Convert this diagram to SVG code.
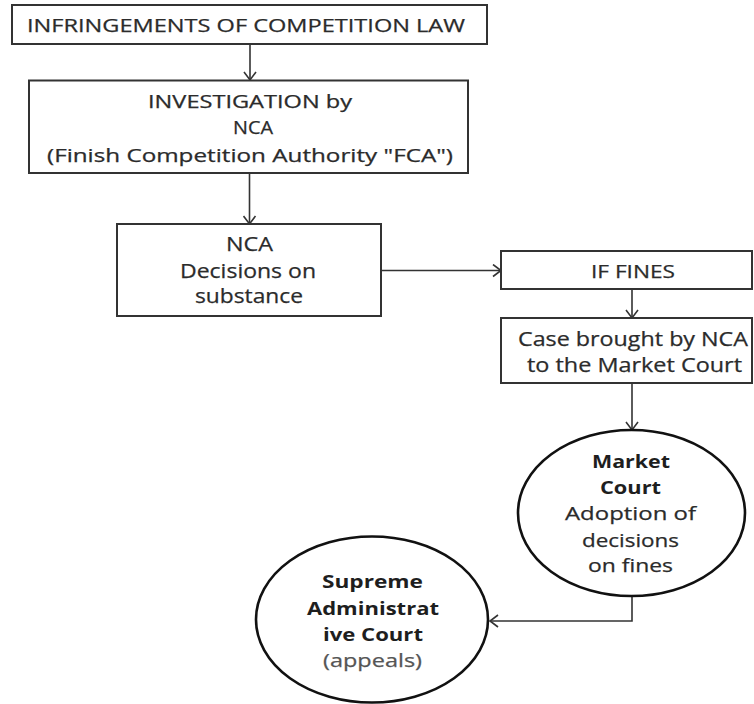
<svg xmlns="http://www.w3.org/2000/svg" width="754" height="704" viewBox="0 0 754 704">
<defs>
<marker id="arr" markerUnits="userSpaceOnUse" markerWidth="12" markerHeight="14" refX="9" refY="7" orient="auto">
<path d="M1,1 L9,7 L1,13" fill="none" stroke="#333" stroke-width="1.6"/>
</marker>
<style>
.box{fill:#fff;stroke:#333;stroke-width:2}
.ell{fill:#fff;stroke:#111;stroke-width:2.6}
.t{font-family:"Open Sans","Liberation Sans",sans-serif;fill:#2b2b2b;stroke:#2b2b2b;stroke-width:0.25;text-anchor:middle}
.b{font-weight:bold;fill:#1e1e1e;stroke:none}
.g{fill:#555;stroke:#555}
.c{fill:none;stroke:#333;stroke-width:1.6}
</style>
</defs>
<rect width="754" height="704" fill="#fff"/>
<g id="connectors">
<line class="c" x1="250" y1="45" x2="250" y2="80" marker-end="url(#arr)"/>
<line class="c" x1="249.5" y1="173" x2="249.5" y2="224" marker-end="url(#arr)"/>
<line class="c" x1="381" y1="270.5" x2="501" y2="270.5" marker-end="url(#arr)"/>
<line class="c" x1="632" y1="289" x2="632" y2="318" marker-end="url(#arr)"/>
<line class="c" x1="632" y1="383" x2="632" y2="430" marker-end="url(#arr)"/>
<path class="c" d="M632,596 V621 H490" marker-end="url(#arr)"/>
</g>
<g id="infringements">
<rect class="box" x="12" y="5" width="475" height="39"/>
<text class="t" x="246" y="32" font-size="18.5" textLength="438" lengthAdjust="spacingAndGlyphs">INFRINGEMENTS OF COMPETITION LAW</text>
</g>
<g id="investigation">
<rect class="box" x="29" y="80.5" width="439" height="92.5"/>
<text class="t" x="250" y="108" font-size="17.5" textLength="204" lengthAdjust="spacingAndGlyphs">INVESTIGATION by</text>
<text class="t" x="253" y="134" font-size="17.5" textLength="40" lengthAdjust="spacingAndGlyphs">NCA</text>
<text class="t" x="250" y="162" font-size="17.5" textLength="406" lengthAdjust="spacingAndGlyphs">(Finish Competition Authority "FCA")</text>
</g>
<g id="nca-decisions">
<rect class="box" x="117" y="224" width="264" height="92"/>
<text class="t" x="249.5" y="251" font-size="20" textLength="47" lengthAdjust="spacingAndGlyphs">NCA</text>
<text class="t" x="248" y="278" font-size="20" textLength="136" lengthAdjust="spacingAndGlyphs">Decisions on</text>
<text class="t" x="249" y="303" font-size="20" textLength="108" lengthAdjust="spacingAndGlyphs">substance</text>
</g>
<g id="if-fines">
<rect class="box" x="501" y="251" width="251" height="38"/>
<text class="t" x="633" y="278" font-size="18.5" textLength="84" lengthAdjust="spacingAndGlyphs">IF FINES</text>
</g>
<g id="case-brought">
<rect class="box" x="501" y="318" width="251" height="65"/>
<text class="t" x="633" y="346" font-size="19.5" textLength="230" lengthAdjust="spacingAndGlyphs">Case brought by NCA</text>
<text class="t" x="634.5" y="372" font-size="19.5" textLength="215" lengthAdjust="spacingAndGlyphs">to the Market Court</text>
</g>
<g id="market-court">
<ellipse class="ell" cx="631.5" cy="513" rx="113.5" ry="83"/>
<text class="t b" x="631" y="468" font-size="18.5" textLength="78" lengthAdjust="spacingAndGlyphs">Market</text>
<text class="t b" x="630.5" y="494" font-size="18.5" textLength="61" lengthAdjust="spacingAndGlyphs">Court</text>
<text class="t" x="630.5" y="520" font-size="19" textLength="131" lengthAdjust="spacingAndGlyphs">Adoption of</text>
<text class="t" x="630.5" y="547" font-size="19" textLength="97" lengthAdjust="spacingAndGlyphs">decisions</text>
<text class="t" x="630.5" y="572" font-size="19" textLength="85" lengthAdjust="spacingAndGlyphs">on fines</text>
</g>
<g id="supreme-court">
<ellipse class="ell" cx="372" cy="619.5" rx="116" ry="83"/>
<text class="t b" x="372.5" y="588" font-size="18.5" textLength="101" lengthAdjust="spacingAndGlyphs">Supreme</text>
<text class="t b" x="373" y="615" font-size="18.5" textLength="132" lengthAdjust="spacingAndGlyphs">Administrat</text>
<text class="t b" x="373" y="641" font-size="18.5" textLength="100" lengthAdjust="spacingAndGlyphs">ive Court</text>
<text class="t g" x="372.5" y="667" font-size="19" textLength="99" lengthAdjust="spacingAndGlyphs">(appeals)</text>
</g>
</svg>
